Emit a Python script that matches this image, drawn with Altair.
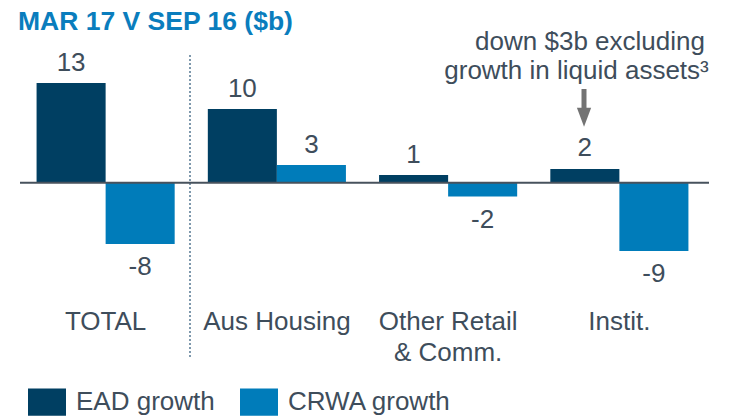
import altair as alt
import pandas as pd

# ---- data ----
categories = ["TOTAL", "Aus Housing", "Other Retail & Comm.", "Instit."]
series = ["EAD growth", "CRWA growth"]
ead_values = [13.0, 9.6, 1.0, 1.8]
crwa_values = [-8.0, 2.3, -1.8, -8.9]
ead_labels = ["13", "10", "1", "2"]
crwa_labels = ["-8", "3", "-2", "-9"]
title_text = "MAR 17 V SEP 16 ($b)"
note_lines = ["down $3b excluding", "growth in liquid assets\u00b3"]

# ---- style ----
FONT = "Liberation Sans"
TXT = "#3e4d5b"
BLUE = "#0a7dbd"
colors = ["#003f62", "#007cba"]

rows = []
for i, c in enumerate(categories):
    rows.append(dict(category=c, series=series[0], value=ead_values[i], label=ead_labels[i]))
    rows.append(dict(category=c, series=series[1], value=crwa_values[i], label=crwa_labels[i]))
df = pd.DataFrame(rows)
one = pd.DataFrame({"v": [0]})

W, H = 685, 298
PX_PER_UNIT = 7.669
BASE = 174.7
yscale = alt.Scale(domain=[-(H - BASE) / PX_PER_UNIT, BASE / PX_PER_UNIT], nice=False)

x_enc = alt.X(
    "category:N",
    sort=categories,
    scale=alt.Scale(paddingInner=0, paddingOuter=0),
    axis=alt.Axis(
        title=None, domain=False, ticks=False, tickSize=0, labelPadding=2,
        labelFontSize=26, labelColor=TXT, labelFont=FONT, labelAngle=0,
        labelLineHeight=31, labelLimit=0, grid=False,
        labelExpr="datum.label == 'Other Retail & Comm.' ? ['Other Retail', '& Comm.'] : datum.label",
    ),
)
xo_enc = alt.XOffset("series:N", sort=series, scale=alt.Scale(paddingInner=0, paddingOuter=0.24))

bars = alt.Chart(df).mark_bar().encode(
    x=x_enc,
    xOffset=xo_enc,
    y=alt.Y("value:Q", scale=yscale, axis=None),
    y2=alt.Y2(datum=0),
    color=alt.Color(
        "series:N", sort=series,
        scale=alt.Scale(domain=series, range=colors),
        legend=alt.Legend(
            title=None, orient="none", legendX=8, legendY=375, direction="horizontal",
            symbolType="M-1,-0.72L1,-0.72L1,0.72L-1,0.72Z", symbolSize=1444,
            symbolStrokeWidth=0, symbolOpacity=1,
            labelFontSize=26, labelColor=TXT, labelFont=FONT, labelOffset=10,
            columnPadding=25, padding=0, labelLimit=0,
        ),
    ),
)

pos_labels = alt.Chart(df).transform_filter("datum.value >= 0").mark_text(
    fontSize=26, color=TXT, baseline="alphabetic", dy=-12.5, font=FONT
).encode(x=x_enc, xOffset=xo_enc, y=alt.Y("value:Q", scale=yscale, axis=None), text="label:N")

neg_labels = alt.Chart(df).transform_filter("datum.value < 0").mark_text(
    fontSize=26, color=TXT, baseline="alphabetic", dy=31, font=FONT
).encode(x=x_enc, xOffset=xo_enc, y=alt.Y("value:Q", scale=yscale, axis=None), text="label:N")

baseline = alt.Chart(one).mark_rule(color="#47525d", strokeWidth=2).encode(
    y=alt.Y("v:Q", scale=yscale, axis=None), x=alt.value(0), x2=alt.value(689)
)

divider = alt.Chart(one).mark_rule(color="#7f99ad", strokeWidth=2, strokeDash=[2, 2]).encode(
    x=alt.value(170), y=alt.value(47), y2=alt.value(349)
)

title = alt.Chart(pd.DataFrame({"t": [title_text]})).mark_text(
    align="left", baseline="alphabetic", fontSize=26.5, fontWeight="bold", color=BLUE, font=FONT
).encode(x=alt.value(-2), y=alt.value(22), text="t:N")

note1 = alt.Chart(pd.DataFrame({"t": [note_lines[0]]})).mark_text(
    align="center", baseline="alphabetic", fontSize=26, color=TXT, font=FONT
).encode(x=alt.value(570), y=alt.value(42), text="t:N")

note2 = alt.Chart(pd.DataFrame({"t": [note_lines[1]]})).mark_text(
    align="center", baseline="alphabetic", fontSize=26, color=TXT, font=FONT
).encode(x=alt.value(556.5), y=alt.value(71), text="t:N")

shaft = alt.Chart(one).mark_rule(color="#737373", strokeWidth=5).encode(
    x=alt.value(564), y=alt.value(81), y2=alt.value(102)
)
head = alt.Chart(one).mark_point(
    shape="M-0.75,-1L0.75,-1L0,1Z", filled=True, size=361, color="#737373", opacity=1, strokeWidth=0
).encode(x=alt.value(564), y=alt.value(109.3))

chart = alt.layer(
    divider, bars, baseline, pos_labels, neg_labels, title, note1, note2, shaft, head
).properties(
    width=W, height=H,
    autosize=alt.AutoSizeParams(type="none"),
    padding={"left": 12, "top": 0, "right": 20, "bottom": 110},
).configure(font=FONT).configure_view(stroke=None, strokeWidth=0)

chart.save("out.html", embed_options={"renderer": "svg", "actions": False})
